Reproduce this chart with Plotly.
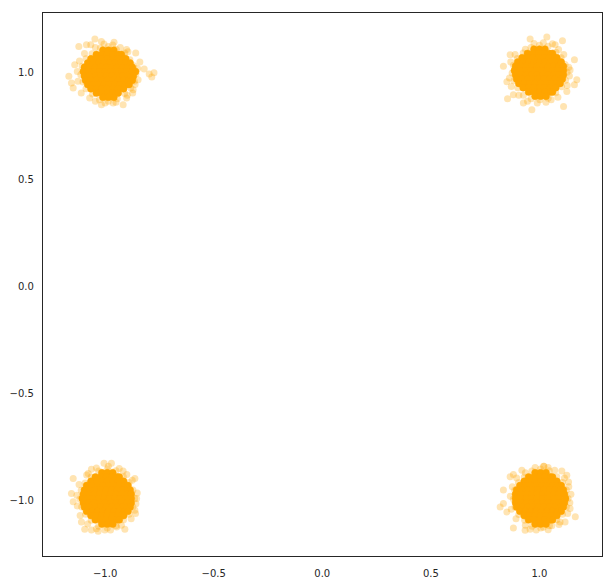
import plotly.graph_objects as go

# Four blobs. The dense middle of each blob is kept as
# rows (y, [x, ...]); the loose points around the edge are kept as (x, y).
tl_core_rows = [
    (1.105, [-1.01, -0.985, -0.96]),
    (1.085, [-1.04, -1.015, -0.99, -0.965, -0.94, -0.925]),
    (1.065, [-1.065, -1.04, -1.015, -0.99, -0.965, -0.94, -0.915, -0.905]),
    (1.045, [-1.08, -1.055, -1.03, -1.005, -0.98, -0.955, -0.93, -0.905, -0.885]),
    (1.025, [-1.095, -1.07, -1.045, -1.02, -0.995, -0.97, -0.945, -0.92, -0.895, -0.875]),
    (1.005, [-1.10, -1.075, -1.05, -1.025, -1.0, -0.975, -0.95, -0.925, -0.90, -0.875, -0.86]),
    (0.985, [-1.095, -1.07, -1.045, -1.02, -0.995, -0.97, -0.945, -0.92, -0.895, -0.87]),
    (0.965, [-1.09, -1.065, -1.04, -1.015, -0.99, -0.965, -0.94, -0.915, -0.89, -0.875]),
    (0.945, [-1.08, -1.055, -1.03, -1.005, -0.98, -0.955, -0.93, -0.905, -0.89]),
    (0.925, [-1.065, -1.04, -1.015, -0.99, -0.965, -0.94, -0.915]),
    (0.905, [-1.04, -1.015, -0.99, -0.965, -0.94]),
    (0.885, [-1.01, -0.985, -0.96]),
]
tl_halo = [
    (-1.047, 1.158), (-1.121, 1.123), (-1.086, 1.131), (-1.066, 1.131), (-1.017, 1.146),
    (-0.959, 1.142), (-0.901, 1.108), (-0.859, 1.092), (-0.820, 1.017), (-0.797, 0.994),
    (-0.775, 1.000), (-0.785, 0.980), (-1.167, 0.983), (-1.155, 0.952), (-1.147, 0.928),
    (-1.140, 1.037), (-0.848, 0.967), (-1.071, 0.882), (-1.017, 0.850), (-0.963, 0.858),
    (-0.917, 0.850), (-0.901, 0.882), (-0.871, 0.920),
    (-0.858, 0.995), (-0.868, 1.033), (-0.886, 1.060), (-0.910, 1.092), (-0.948, 1.108),
    (-0.985, 1.122), (-1.022, 1.115), (-1.060, 1.088), (-1.088, 1.065), (-1.106, 1.030),
    (-1.112, 0.990), (-1.102, 0.957), (-1.088, 0.925), (-1.058, 0.900), (-1.026, 0.874),
    (-0.985, 0.866), (-0.944, 0.878), (-0.910, 0.903), (-0.882, 0.928), (-0.865, 0.960),
    (-0.850, 1.020), (-0.862, 0.945), (-0.895, 1.098), (-0.930, 1.118), (-0.965, 1.130),
    (-1.005, 1.134), (-1.045, 1.118), (-1.095, 1.090), (-1.118, 1.055), (-1.128, 1.005),
    (-1.125, 0.960), (-1.110, 0.905), (-1.045, 0.866), (-1.000, 0.858), (-0.950, 0.862),
    (-0.898, 0.895), (-0.873, 0.905), (-0.840, 1.050),
]

tr_core_rows = [
    (1.11, [0.975, 1.0, 1.025]),
    (1.09, [0.945, 0.97, 0.995, 1.02, 1.045, 1.06]),
    (1.07, [0.92, 0.945, 0.97, 0.995, 1.02, 1.045, 1.07, 1.08]),
    (1.05, [0.90, 0.925, 0.95, 0.975, 1.0, 1.025, 1.05, 1.075, 1.10]),
    (1.03, [0.89, 0.915, 0.94, 0.965, 0.99, 1.015, 1.04, 1.065, 1.09, 1.11]),
    (1.01, [0.885, 0.91, 0.935, 0.96, 0.985, 1.01, 1.035, 1.06, 1.085, 1.11]),
    (0.99, [0.89, 0.915, 0.94, 0.965, 0.99, 1.015, 1.04, 1.065, 1.09, 1.11]),
    (0.97, [0.895, 0.92, 0.945, 0.97, 0.995, 1.02, 1.045, 1.07, 1.095, 1.105]),
    (0.95, [0.905, 0.93, 0.955, 0.98, 1.005, 1.03, 1.055, 1.08, 1.095]),
    (0.93, [0.925, 0.95, 0.975, 1.0, 1.025, 1.05, 1.075]),
    (0.91, [0.95, 0.975, 1.0, 1.025, 1.05, 1.06]),
    (0.89, [0.98, 1.005, 1.03]),
]
tr_halo = [
    (0.957, 1.157), (1.034, 1.167), (1.106, 1.149), (1.072, 1.131), (1.161, 1.061),
    (1.172, 0.967), (1.161, 0.944), (1.141, 1.013), (1.126, 0.912), (1.111, 0.842),
    (0.965, 0.827), (0.926, 0.858), (0.853, 0.878), (0.880, 0.897), (0.834, 1.030),
    (0.865, 1.084), (0.850, 0.958), (1.054, 0.874),
    (1.127, 1.002), (1.118, 1.038), (1.100, 1.070), (1.076, 1.095), (1.040, 1.124),
    (1.000, 1.128), (0.961, 1.118), (0.925, 1.092), (0.898, 1.066), (0.880, 1.035),
    (0.874, 0.998), (0.882, 0.962), (0.900, 0.930), (0.926, 0.895), (0.962, 0.878),
    (1.002, 0.873), (1.040, 0.880), (1.075, 0.906), (1.102, 0.934), (1.120, 0.965),
    (1.135, 1.025), (1.138, 0.985), (1.128, 0.940), (1.112, 1.085), (1.088, 1.108),
    (1.060, 1.135), (1.018, 1.140), (0.975, 1.136), (0.935, 1.110), (0.888, 1.085),
    (0.868, 1.050), (0.862, 0.975), (0.870, 0.935), (0.905, 0.895), (0.945, 0.866),
    (0.990, 0.858), (1.030, 0.862), (1.085, 0.885),
]

bl_core_rows = [
    (-0.87, [-1.015, -0.99, -0.965]),
    (-0.89, [-1.045, -1.02, -0.995, -0.97, -0.945, -0.935]),
    (-0.91, [-1.065, -1.04, -1.015, -0.99, -0.965, -0.94, -0.915]),
    (-0.93, [-1.085, -1.06, -1.035, -1.01, -0.985, -0.96, -0.935, -0.91, -0.895]),
    (-0.95, [-1.095, -1.07, -1.045, -1.02, -0.995, -0.97, -0.945, -0.92, -0.895, -0.885]),
    (-0.97, [-1.10, -1.075, -1.05, -1.025, -1.0, -0.975, -0.95, -0.925, -0.90, -0.88]),
    (-0.99, [-1.105, -1.08, -1.055, -1.03, -1.005, -0.98, -0.955, -0.93, -0.905, -0.88]),
    (-1.01, [-1.10, -1.075, -1.05, -1.025, -1.0, -0.975, -0.95, -0.925, -0.90, -0.88]),
    (-1.03, [-1.095, -1.07, -1.045, -1.02, -0.995, -0.97, -0.945, -0.92, -0.895, -0.885]),
    (-1.05, [-1.085, -1.06, -1.035, -1.01, -0.985, -0.96, -0.935, -0.91, -0.895]),
    (-1.07, [-1.065, -1.04, -1.015, -0.99, -0.965, -0.94, -0.915]),
    (-1.09, [-1.045, -1.02, -0.995, -0.97, -0.945, -0.935]),
    (-1.11, [-1.015, -0.99, -0.965]),
]
bl_halo = [
    (-1.005, -0.826), (-0.971, -0.826), (-1.063, -0.853), (-1.078, -0.873), (-0.917, -0.862),
    (-1.147, -0.897), (-0.863, -0.897), (-1.155, -0.967), (-1.147, -1.006), (-0.855, -0.990),
    (-1.109, -1.100), (-1.094, -1.134), (-1.063, -1.138), (-1.032, -1.143), (-1.001, -1.138),
    (-0.947, -1.123), (-0.909, -1.134), (-0.863, -1.045),
    (-0.864, -0.990), (-0.872, -0.950), (-0.890, -0.916), (-0.916, -0.888), (-0.950, -0.860),
    (-0.990, -0.852), (-1.030, -0.862), (-1.064, -0.890), (-1.092, -0.918), (-1.110, -0.952),
    (-1.116, -0.992), (-1.108, -1.030), (-1.090, -1.064), (-1.064, -1.092), (-1.030, -1.120),
    (-0.990, -1.128), (-0.950, -1.118), (-0.915, -1.090), (-0.890, -1.064), (-0.872, -1.030),
    (-0.852, -0.965), (-0.858, -1.015), (-0.875, -0.905), (-0.900, -0.878), (-0.935, -0.850),
    (-0.985, -0.840), (-1.040, -0.848), (-1.085, -0.880), (-1.120, -0.925), (-1.130, -0.975),
    (-1.128, -1.025), (-1.115, -1.070), (-1.080, -1.110), (-1.040, -1.132), (-0.975, -1.138),
    (-0.925, -1.115), (-0.880, -1.085), (-0.860, -1.060),
]

br_core_rows = [
    (-0.87, [0.98, 1.005, 1.03]),
    (-0.89, [0.95, 0.975, 1.0, 1.025, 1.05, 1.06]),
    (-0.91, [0.93, 0.955, 0.98, 1.005, 1.03, 1.055, 1.08]),
    (-0.93, [0.91, 0.935, 0.96, 0.985, 1.01, 1.035, 1.06, 1.085, 1.10]),
    (-0.95, [0.895, 0.92, 0.945, 0.97, 0.995, 1.02, 1.045, 1.07, 1.095, 1.11]),
    (-0.97, [0.89, 0.915, 0.94, 0.965, 0.99, 1.015, 1.04, 1.065, 1.09, 1.115]),
    (-0.99, [0.89, 0.915, 0.94, 0.965, 0.99, 1.015, 1.04, 1.065, 1.09, 1.12]),
    (-1.01, [0.89, 0.915, 0.94, 0.965, 0.99, 1.015, 1.04, 1.065, 1.09, 1.115]),
    (-1.03, [0.895, 0.92, 0.945, 0.97, 0.995, 1.02, 1.045, 1.07, 1.095, 1.11]),
    (-1.05, [0.91, 0.935, 0.96, 0.985, 1.01, 1.035, 1.06, 1.085, 1.10]),
    (-1.07, [0.93, 0.955, 0.98, 1.005, 1.03, 1.055, 1.08]),
    (-1.09, [0.95, 0.975, 1.0, 1.025, 1.05, 1.06]),
    (-1.11, [0.98, 1.005, 1.03]),
]
br_halo = [
    (0.919, -0.858), (0.865, -0.889), (0.880, -0.878), (1.103, -0.862), (1.126, -0.881),
    (1.134, -0.913), (0.834, -0.951), (0.819, -1.030), (0.834, -1.014), (0.850, -1.053),
    (1.141, -1.037), (1.165, -1.076), (1.118, -1.100), (0.880, -1.128), (0.934, -1.139),
    (0.957, -1.134), (1.018, -1.125), (1.057, -1.118), (1.095, -1.100), (1.020, -0.840),
    (1.040, -0.845),
    (1.132, -0.990), (1.124, -0.950), (1.106, -0.915), (1.080, -0.888), (1.045, -0.860),
    (1.005, -0.852), (0.965, -0.862), (0.930, -0.890), (0.903, -0.917), (0.886, -0.952),
    (0.880, -0.992), (0.888, -1.030), (0.905, -1.065), (0.932, -1.092), (0.966, -1.120),
    (1.006, -1.128), (1.046, -1.118), (1.080, -1.090), (1.106, -1.064), (1.124, -1.030),
    (1.145, -0.970), (1.140, -1.010), (1.135, -0.935), (1.115, -0.895), (1.070, -0.858),
    (1.020, -0.840), (0.980, -0.845), (0.935, -0.870), (0.895, -0.895), (0.875, -0.935),
    (0.866, -0.980), (0.870, -1.040), (0.892, -1.085), (0.935, -1.115), (0.985, -1.138),
    (1.040, -1.136), (1.090, -1.112), (1.130, -1.060),
]

tick_vals = [-1.0, -0.5, 0.0, 0.5, 1.0]
tick_text = ["\u22121.0", "\u22120.5", "0.0", "0.5", "1.0"]

ORANGE = "#FFA500"
INK = "#262626"


def rows_to_xy(rows):
    xs, ys = [], []
    for y, row in rows:
        for x in row:
            xs.append(x)
            ys.append(y)
    return xs, ys


halo_x, halo_y, core_x, core_y = [], [], [], []
for rows, halo in [(tl_core_rows, tl_halo), (tr_core_rows, tr_halo),
                   (bl_core_rows, bl_halo), (br_core_rows, br_halo)]:
    cx, cy = rows_to_xy(rows)
    core_x += cx
    core_y += cy
    halo_x += [p[0] for p in halo]
    halo_y += [p[1] for p in halo]

fig = go.Figure()
fig.add_trace(go.Scatter(x=halo_x, y=halo_y, mode="markers", hoverinfo="skip",
                         marker=dict(color=ORANGE, size=7, opacity=0.3, line=dict(width=0))))
fig.add_trace(go.Scatter(x=core_x, y=core_y, mode="markers", hoverinfo="skip",
                         marker=dict(color=ORANGE, size=7, opacity=1.0,
                                     line=dict(width=0.5, color=ORANGE))))

axis_style = dict(showgrid=False, zeroline=False, showline=True, mirror=True,
                  linecolor=INK, linewidth=1.25, ticks="", tickvals=tick_vals,
                  ticktext=tick_text, automargin=False,
                  tickfont=dict(family="DejaVu Sans", size=10, color=INK))

# the page body keeps its default 8px margin, so the figure is sized 8px smaller
fig.update_layout(width=606, height=575,
                  margin={'t': 5, 'b': 27, 'l': 35, 'r': 12},
                  plot_bgcolor="white", paper_bgcolor="white",
                  showlegend=False)
fig.update_xaxes(range=[-1.286, 1.288], ticklabelstandoff=8, **axis_style)
fig.update_yaxes(range=[-1.259, 1.279], ticklabelstandoff=6, **axis_style)

fig.write_html("out.html")
